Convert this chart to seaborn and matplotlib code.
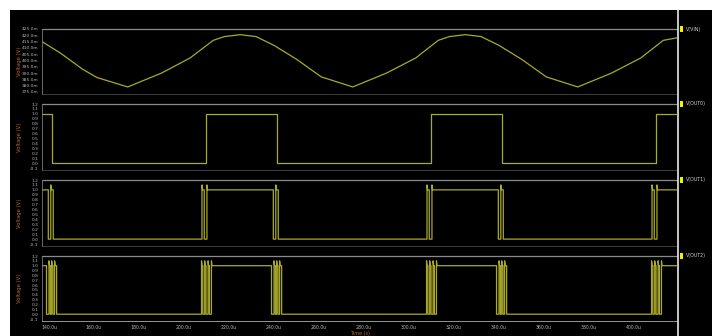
import numpy as np
import pandas as pd
import matplotlib
matplotlib.use("Agg")
import matplotlib.pyplot as plt
from matplotlib.patches import Rectangle
from matplotlib.ticker import MultipleLocator, FixedLocator
import seaborn as sns

# ---- data (time in microseconds) ----
vin_t = [136.9, 145, 155, 161.3, 175, 190, 202.7, 213, 218, 225, 232, 240, 250,
         261, 275, 290, 303, 313, 318, 325, 332, 340, 350, 361, 375, 390, 403,
         413, 419.1]
vin_mv = [415, 406, 393, 386.5, 379, 390, 402, 416, 419, 420.5, 419, 412, 401,
          387, 379, 390, 402, 416, 419, 420.5, 419, 412, 401, 387, 379, 390, 402,
          416, 418]

out0_rise = [209.8, 309.8, 409.8]
out0_fall = [141.4, 241.4, 341.4]

out1_rise = [140.8, 208.0, 210.2, 240.8, 308.0, 310.2, 340.8, 408.0, 410.2]
out1_fall = [139.7, 141.9, 209.0, 239.7, 241.9, 309.0, 339.7, 341.9, 409.0]

out2_rise = [140.0, 141.2, 142.5, 207.8, 209.2, 210.7, 212.2,
             240.0, 241.2, 242.5, 307.8, 309.2, 310.7, 312.2,
             340.0, 341.2, 342.5, 407.8, 409.2, 410.7, 412.2]
out2_fall = [138.9, 140.6, 141.8, 143.4, 208.4, 209.8, 211.3,
             238.9, 240.6, 241.8, 243.4, 308.4, 309.8, 311.3,
             338.9, 340.6, 341.8, 343.4, 408.4, 409.8, 411.3]

HIGH, LOW, OVERSHOOT = 1.0, 0.0, 1.1
T0, T1 = 136.9, 419.1

vin_ticks = [425, 420, 415, 410, 405, 400, 395, 390, 385, 380, 375]
out_ticks = [1.2, 1.1, 1.0, 0.9, 0.8, 0.7, 0.6, 0.5, 0.4, 0.3, 0.2, 0.1, 0.0, -0.1]
time_ticks = [140, 160, 180, 200, 220, 240, 260, 280, 300, 320, 340, 360, 380, 400]
names = ["V(VIN)", "V(OUT0)", "V(OUT1)", "V(OUT2)"]


def digital_trace(rise, fall, spike):
    """Vertices of a logic waveform that starts high, with optional overshoot on rising edges."""
    edges = sorted([(t, 1) for t in rise] + [(t, 0) for t in fall])
    ts, vs = [T0], [HIGH]
    for t, up in edges:
        if up:
            ts += [t, t]
            vs += [LOW, spike]
            if spike != HIGH:
                ts.append(t + 0.25)
                vs.append(HIGH)
        else:
            ts += [t, t]
            vs += [HIGH, LOW]
    ts.append(T1)
    vs.append(vs[-1])
    return pd.DataFrame({"t": ts, "v": vs})


traces = [
    pd.DataFrame({"t": vin_t, "v": vin_mv}),
    digital_trace(out0_rise, out0_fall, HIGH),
    digital_trace(out1_rise, out1_fall, OVERSHOOT),
    digital_trace(out2_rise, out2_fall, OVERSHOOT),
]

# ---- figure ----
sns.set_theme(style="dark")
plt.rcParams["font.family"] = ["DejaVu Sans"]
W, H = 712, 336
fig = plt.figure(figsize=(W / 100, H / 100), dpi=100, facecolor="white")

# black canvas behind all panels
bg = fig.add_axes([10 / W, 0, 1 - 10 / W, 1 - 10 / H], zorder=-5)
bg.set_facecolor("black")
bg.set_xticks([])
bg.set_yticks([])
for s in bg.spines.values():
    s.set_visible(False)

LINE = "#aaa92a"
GRID = "#8a8a8a"
TXT = "#b4b4b4"
ORANGE = "#b8692a"
X0, X1 = 42, 677
panels = [(29, 94), (104, 170), (180, 246), (256, 321)]
ylims = [(373.4, 425), (-0.14, 1.2), (-0.14, 1.2), (-0.14, 1.2)]

for i, ((top, bot), ylim, df) in enumerate(zip(panels, ylims, traces)):
    ax = fig.add_axes([X0 / W, 1 - bot / H, (X1 - X0) / W, (bot - top) / H], zorder=1)
    ax.set_facecolor("black")
    sns.lineplot(data=df, x="t", y="v", ax=ax, color=LINE, linewidth=0.9,
                 estimator=None, sort=False)
    ax.set_xlim(T0, T1)
    ax.set_ylim(*ylim)
    ax.axhline(ylim[1], color=GRID, linewidth=0.9, clip_on=False)
    ax.grid(False)
    for s in ("top", "right"):
        ax.spines[s].set_visible(False)
    ax.spines["left"].set_color("#7a7a7a")
    ax.spines["left"].set_linewidth(0.6)
    ax.spines["bottom"].set_color("#555555")
    ax.spines["bottom"].set_linewidth(0.5)

    if i == 0:
        ax.yaxis.set_major_locator(FixedLocator(vin_ticks))
        ax.set_yticklabels([f"{v:.1f}m" for v in vin_ticks])
    else:
        ax.yaxis.set_major_locator(FixedLocator(out_ticks))
        ax.set_yticklabels([f"{v:.1f}" for v in out_ticks])
    ax.tick_params(axis="y", colors="#7a7a7a", labelcolor=TXT, labelsize=3.2,
                   length=1.5, width=0.4, pad=1)

    ax.xaxis.set_major_locator(FixedLocator(time_ticks))
    ax.xaxis.set_minor_locator(MultipleLocator(2))
    last = i == len(panels) - 1
    tc = "#d0d0d0" if last else "#707070"
    ax.tick_params(axis="x", which="major", colors=tc, length=2.2, width=0.5,
                   labelsize=3.3, labelcolor=TXT, pad=0.6, labelbottom=last)
    ax.tick_params(axis="x", which="minor", colors=tc, length=1.2, width=0.4)
    if last:
        ax.spines["bottom"].set_color("#d0d0d0")
        ax.set_xticklabels([f"{t:.1f}u" for t in time_ticks])
    ax.set_xlabel("")
    ax.set_ylabel("")

    fig.text(19 / W, 1 - (top + bot) / 2 / H, "Voltage (V)", rotation=90,
             ha="center", va="center", color=ORANGE, fontsize=3.8)

    # trace legend on the right
    fig.patches.append(Rectangle((680 / W, 1 - (top + 3) / H), 3 / W, 6 / H,
                                 transform=fig.transFigure, facecolor="#f2f200",
                                 edgecolor="none", zorder=3))
    fig.text(686 / W, 1 - top / H, names[i], ha="left", va="center",
             color="#cfcfcf", fontsize=3.4)

fig.text((X0 + X1) / 2 / W, 1 - 333.6 / H, "Time (s)", ha="center", va="center",
         color=ORANGE, fontsize=3.5)

# divider between plot area and legend column
fig.add_artist(plt.Line2D([677.5 / W, 677.5 / W], [0, 1 - 10 / H],
                          transform=fig.transFigure, color="#e8e8e8", linewidth=1.2))

fig.savefig("out.png", dpi=100, facecolor="white")
